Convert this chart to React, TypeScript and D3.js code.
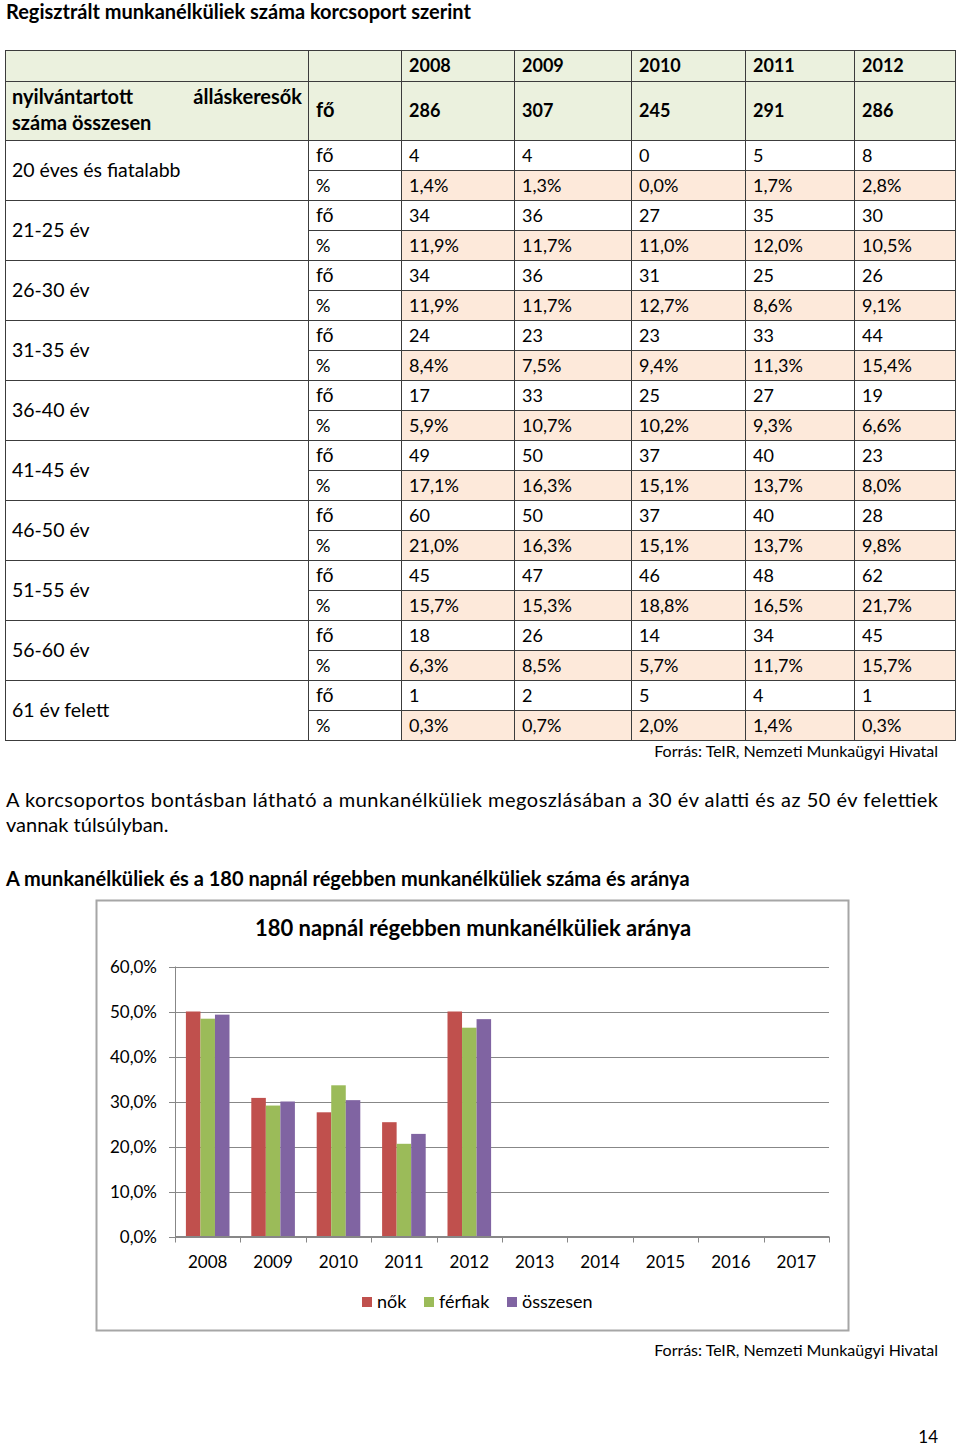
import React from "react";
import * as d3 from "d3";

const tableTitle = "Regisztrált munkanélküliek száma korcsoport szerint";
const years = ["2008", "2009", "2010", "2011", "2012"];
const totals = [286, 307, 245, 291, 286];
const ageGroups = [
  "20 éves és fiatalabb",
  "21-25 év",
  "26-30 év",
  "31-35 év",
  "36-40 év",
  "41-45 év",
  "46-50 év",
  "51-55 év",
  "56-60 év",
  "61 év felett",
];
const countsByGroup = [
  [4, 4, 0, 5, 8],
  [34, 36, 27, 35, 30],
  [34, 36, 31, 25, 26],
  [24, 23, 23, 33, 44],
  [17, 33, 25, 27, 19],
  [49, 50, 37, 40, 23],
  [60, 50, 37, 40, 28],
  [45, 47, 46, 48, 62],
  [18, 26, 14, 34, 45],
  [1, 2, 5, 4, 1],
];
const percentsByGroup = [
  [1.4, 1.3, 0.0, 1.7, 2.8],
  [11.9, 11.7, 11.0, 12.0, 10.5],
  [11.9, 11.7, 12.7, 8.6, 9.1],
  [8.4, 7.5, 9.4, 11.3, 15.4],
  [5.9, 10.7, 10.2, 9.3, 6.6],
  [17.1, 16.3, 15.1, 13.7, 8.0],
  [21.0, 16.3, 15.1, 13.7, 9.8],
  [15.7, 15.3, 18.8, 16.5, 21.7],
  [6.3, 8.5, 5.7, 11.7, 15.7],
  [0.3, 0.7, 2.0, 1.4, 0.3],
];

const source = "Forrás: TeIR, Nemzeti Munkaügyi Hivatal";
const paragraphLine1 =
  "A korcsoportos bontásban látható a munkanélküliek megoszlásában a 30 év alatti és az 50 év felettiek";
const paragraphLine2 = "vannak túlsúlyban.";
const chartHeading = "A munkanélküliek és a 180 napnál régebben munkanélküliek száma és aránya";
const chartTitle = "180 napnál régebben munkanélküliek aránya";

const chartYears = ["2008", "2009", "2010", "2011", "2012", "2013", "2014", "2015", "2016", "2017"];
const seriesNames = ["nők", "férfiak", "összesen"];
const nok = [50.0, 30.8, 27.6, 25.4, 50.0];
const ferfiak = [48.4, 29.1, 33.6, 20.6, 46.4];
const osszesen = [49.3, 30.0, 30.3, 22.8, 48.3];
const yTicks = [0, 10, 20, 30, 40, 50, 60];
const seriesColors = ["#C0504D", "#9BBB59", "#8064A2"];

const FONT = "Lato, 'Open Sans', sans-serif";
const fmt = (v: number) => v.toFixed(1).replace(".", ",");

function Table() {
  const colX = [5, 308, 401, 514, 631, 745, 854, 955];
  const top = 50;
  const h1 = 81;
  const h2 = 140;
  const rowH = 30;
  const nRows = ageGroups.length * 2;
  const bottom = h2 + nRows * rowH;
  const green = "#EBF1DE";
  const peach = "#FDE9DA";
  const line = "#3c3c3c";
  const fs = 18;
  const fsLabel = 19.5;
  const fsBold = 20;

  const els: React.ReactNode[] = [];
  els.push(<rect key="hbg" x={colX[0]} y={top} width={colX[7] - colX[0]} height={h2 - top} fill={green} />);
  ageGroups.forEach((_, g) => {
    const y = h2 + (g * 2 + 1) * rowH;
    els.push(<rect key={"pb" + g} x={colX[2]} y={y} width={colX[7] - colX[2]} height={rowH} fill={peach} />);
  });
  years.forEach((yr, i) => {
    els.push(
      <text key={"yr" + i} x={colX[i + 2] + 8} y={72} fontWeight="bold" fontSize={fs}>
        {yr}
      </text>
    );
    els.push(
      <text key={"tot" + i} x={colX[i + 2] + 8} y={117} fontWeight="bold" fontSize={fs}>
        {totals[i]}
      </text>
    );
  });
  els.push(
    <text key="nyil1" x={12} y={104} fontWeight="bold" fontSize={fsBold}>
      nyilvántartott
    </text>
  );
  els.push(
    <text key="nyil2" x={302} y={104} fontWeight="bold" fontSize={fsBold} textAnchor="end">
      álláskeresők
    </text>
  );
  els.push(
    <text key="nyil3" x={12} y={130} fontWeight="bold" fontSize={fsBold}>
      száma összesen
    </text>
  );
  els.push(
    <text key="hfo" x={316} y={117} fontWeight="bold" fontSize={fsBold}>
      fő
    </text>
  );
  ageGroups.forEach((g, gi) => {
    const y0 = h2 + gi * 2 * rowH;
    els.push(
      <text key={"ag" + gi} x={12} y={y0 + rowH + 7} fontSize={fsLabel}>
        {g}
      </text>
    );
    els.push(
      <text key={"fo" + gi} x={316} y={y0 + rowH / 2 + 7} fontSize={fsLabel}>
        fő
      </text>
    );
    els.push(
      <text key={"pc" + gi} x={316} y={y0 + rowH * 1.5 + 7} fontSize={fs}>
        %
      </text>
    );
    years.forEach((_, i) => {
      els.push(
        <text key={`c${gi}-${i}`} x={colX[i + 2] + 8} y={y0 + rowH / 2 + 7} fontSize={fs}>
          {countsByGroup[gi][i]}
        </text>
      );
      els.push(
        <text key={`p${gi}-${i}`} x={colX[i + 2] + 8} y={y0 + rowH * 1.5 + 7} fontSize={fs}>
          {fmt(percentsByGroup[gi][i]) + "%"}
        </text>
      );
    });
  });
  const hl = (k: string, y: number, x1: number, x2: number) => (
    <line key={k} x1={x1} x2={x2} y1={y} y2={y} stroke={line} strokeWidth={1} />
  );
  els.push(hl("t", top + 0.5, colX[0], colX[7]));
  els.push(hl("h1", h1 + 0.5, colX[0], colX[7]));
  els.push(hl("h2", h2 + 0.5, colX[0], colX[7]));
  for (let r = 1; r <= nRows; r++) {
    const y = h2 + r * rowH + 0.5;
    els.push(hl("r" + r, y, r % 2 === 0 ? colX[0] : colX[1], colX[7]));
  }
  colX.forEach((x, i) => {
    els.push(<line key={"v" + i} x1={x + 0.5} x2={x + 0.5} y1={top} y2={bottom + 1} stroke={line} strokeWidth={1} />);
  });
  return <g>{els}</g>;
}

function Chart() {
  const boxX = 96.5,
    boxY = 900.5,
    boxW = 752,
    boxH = 430;
  const left = 175,
    right = 829,
    y0 = 1236.5,
    yTop = 966.5;
  const x = d3.scaleBand<string>().domain(chartYears).range([left, right]).paddingInner(0).paddingOuter(0);
  const xs = d3.scaleBand<string>().domain(seriesNames).range([0, x.bandwidth()]).paddingInner(0).paddingOuter(0.75);
  const y = d3.scaleLinear().domain([0, 60]).range([y0, yTop]);
  const data = [nok, ferfiak, osszesen];
  const grid = "#878787";

  return (
    <g>
      <rect x={boxX} y={boxY} width={boxW} height={boxH} fill="#fff" stroke="#a6a6a6" strokeWidth={2} />
      <text x={473} y={936} textAnchor="middle" fontWeight="bold" fontSize={22}>
        {chartTitle}
      </text>
      {yTicks.map((t) => (
        <g key={"yt" + t}>
          <line x1={left - 6} x2={right} y1={Math.round(y(t)) + 0.5} y2={Math.round(y(t)) + 0.5} stroke={grid} strokeWidth={1} />
          <text x={157} y={y(t) + 6} textAnchor="end" fontSize={17}>
            {fmt(t) + "%"}
          </text>
        </g>
      ))}
      <line x1={left + 0.5} x2={left + 0.5} y1={yTop} y2={y0} stroke={grid} strokeWidth={1} />
      {chartYears.map((yr) => (
        <g key={"xt" + yr}>
          <line
            x1={Math.round(x(yr)!) + 0.5}
            x2={Math.round(x(yr)!) + 0.5}
            y1={y0}
            y2={y0 + 6}
            stroke={grid}
            strokeWidth={1}
          />
          <text x={x(yr)! + x.bandwidth() / 2} y={1268} textAnchor="middle" fontSize={17}>
            {yr}
          </text>
        </g>
      ))}
      <line x1={right + 0.5} x2={right + 0.5} y1={y0} y2={y0 + 6} stroke={grid} strokeWidth={1} />
      {data.map((vals, si) =>
        vals.map((v, i) => (
          <rect
            key={`b${si}-${i}`}
            x={x(chartYears[i])! + xs(seriesNames[si])!}
            y={y(v)}
            width={xs.bandwidth()}
            height={y0 - y(v)}
            fill={seriesColors[si]}
          />
        ))
      )}
      <line x1={left} x2={right} y1={y0} y2={y0} stroke={grid} strokeWidth={1} />
      {[
        { x: 362, label: seriesNames[0] },
        { x: 424, label: seriesNames[1] },
        { x: 507, label: seriesNames[2] },
      ].map((l, i) => (
        <g key={"lg" + i}>
          <rect x={l.x} y={1297} width={10} height={10} fill={seriesColors[i]} />
          <text x={l.x + 15} y={1308} fontSize={18}>
            {l.label}
          </text>
        </g>
      ))}
    </g>
  );
}

export default function App() {
  return (
    <svg
      width={960}
      height={1446}
      style={{ position: "absolute", left: 0, top: 0, background: "#fff" }}
      fontFamily={FONT}
      fill="#000"
    >
      <rect x={0} y={0} width={960} height={1446} fill="#fff" />
      <text x={6} y={19} fontWeight="bold" fontSize={20}>
        {tableTitle}
      </text>
      <Table />
      <text x={938} y={757} textAnchor="end" fontSize={16}>
        {source}
      </text>
      <text x={6} y={807} fontSize={20} textLength={932} lengthAdjust="spacing">
        {paragraphLine1}
      </text>
      <text x={6} y={832} fontSize={20}>
        {paragraphLine2}
      </text>
      <text x={6} y={886} fontWeight="bold" fontSize={20}>
        {chartHeading}
      </text>
      <Chart />
      <text x={938} y={1356} textAnchor="end" fontSize={16}>
        {source}
      </text>
      <text x={938} y={1443} textAnchor="end" fontSize={17}>
        14
      </text>
    </svg>
  );
}
